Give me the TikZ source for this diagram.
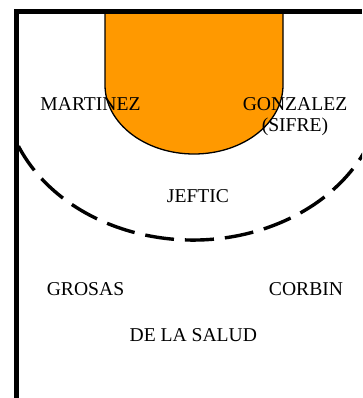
\documentclass[tikz,border=0pt]{standalone}
\usepackage{fontspec}
\setmainfont{Liberation Serif}
\definecolor{keyorange}{HTML}{FF9900}
\begin{document}
\begin{tikzpicture}[x=1pt,y=-1pt,
  court/.style={line width=4.5pt},
  lane/.style={fill=keyorange, draw=black, line width=1.3pt},
  arcline/.style={line width=3.4pt, dash pattern=on 29pt off 11pt},
  player/.style={anchor=base, inner sep=0pt, font=\fontsize{19.6}{21}\selectfont}]
\useasboundingbox (0,0) rectangle (362,398);
% key (lane)
\draw[lane] (105,11.5) -- (105,85) arc[start angle=180, end angle=0, x radius=89, y radius=69] -- (283,11.5);
% three-point arc
\begin{scope}
\clip (0,0) rectangle (362,398);
\draw[arcline] (18.4,146.1) arc[start angle=156.8, end angle=22, x radius=190, y radius=155];
\end{scope}
% court lines
\coordinate (tl) at (16.5,11.5);
\coordinate (tr) at (362,11.5);
\coordinate (bl) at (16.5,398);
\draw[court] (tr) -- (tl) -- (bl);
% players
\node[player] (martinez) at (90.5,110.7) {MARTINEZ};
\node[player] (gonzalez) at (295,110.7) {\begin{tabular}[t]{@{}c@{}}GONZALEZ\\(SIFRE)\end{tabular}};
\node[player] (jeftic) at (198,202.7) {JEFTIC};
\node[player] (grosas) at (85.5,295.7) {GROSAS};
\node[player] (corbin) at (306,295.7) {CORBIN};
\node[player] (salud) at (193.3,341.7) {DE LA SALUD};
\end{tikzpicture}
\end{document}
